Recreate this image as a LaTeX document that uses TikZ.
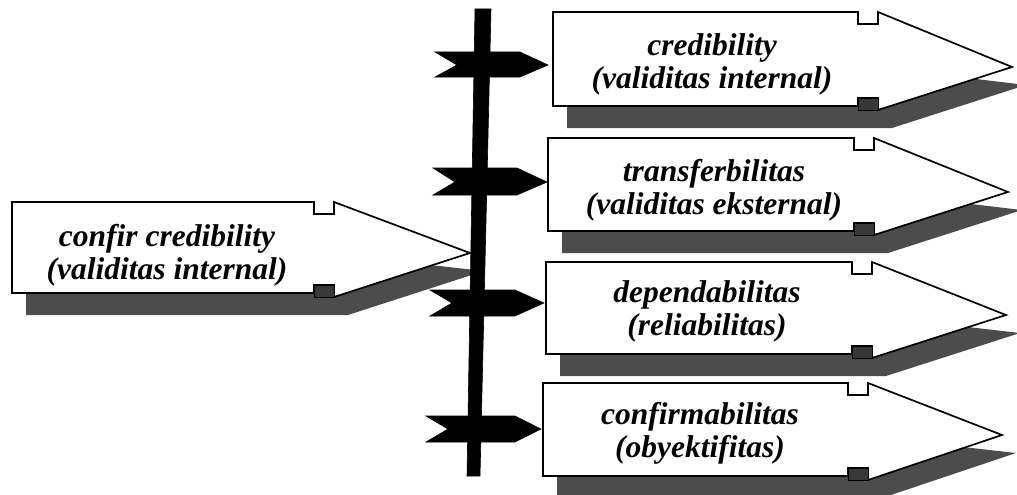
\documentclass[tikz,border=0pt]{standalone}
\usepackage{fontspec}
\setmainfont{Liberation Serif}
\tikzset{
  boxline/.style={draw=black, line width=1.7pt, fill=white, line join=miter},
  shadowfill/.style={fill=black!70, draw=none},
  notchsq/.style={fill=black!78, draw=black, line width=0.8pt},
  pointer/.style={fill=black, draw=black, line width=0.6pt, line join=miter},
  barstyle/.style={fill=black, draw=black, line width=0.6pt},
  lbl/.style={font=\fontsize{31.5}{33}\selectfont\bfseries\itshape, align=center, inner sep=0pt},
}
% #1 left x, #2 top y, #3 bottom y, #4 notch x, #5 tip x, #6 tip y
\newcommand\arrowoutline[6]{(#1,#2) -- (#4,#2) -- (#4,#2+12) -- (#4+20,#2+12) -- (#4+20,#2) -- (#5,#6) -- (#4+20,#3+4) -- (#4+20,#3-8) -- (#4,#3-8) -- (#4,#3) -- (#1,#3) -- cycle}
\newcommand\shadowoutline[6]{(#1,#2) -- (#5,#6) -- (#4+20,#3+4) -- (#1,#3+4) -- cycle}
\newcommand\bigarrow[6]{%
  \fill[shadowfill, shift={(14,18)}] \shadowoutline{#1}{#2}{#3}{#4}{#5}{#6};
  \draw[boxline] \arrowoutline{#1}{#2}{#3}{#4}{#5}{#6};
  \draw[notchsq] (#4,#3-8) rectangle (#4+20,#3+4);
}
% #1 tail x, #2 top, #3 bottom, #4 body end x, #5 tip x, #6 centre y
\newcommand\pointerarrow[6]{%
  \draw[pointer] (#1,#2) -- (#4,#2) -- (#5,#6) -- (#4,#3) -- (#1,#3) -- (#1+22,#6) -- cycle;
}
\begin{document}
\begin{tikzpicture}[x=1pt, y=-1pt]
\useasboundingbox (0,0) rectangle (1017,495);
\clip (0,0) rectangle (1017,495);

% left arrow
\bigarrow{12}{202}{293}{314}{470}{253}
% right arrows
\bigarrow{553}{12}{106}{858}{1012}{67}
\bigarrow{548}{138}{231}{854}{1008}{192}
\bigarrow{546}{262}{354}{852}{1006}{315}
\bigarrow{543}{383}{476}{848}{1002}{435}

% vertical bar
\draw[barstyle] (475,9) -- (491,9) -- (480,476) -- (467,476) -- cycle;

% small pointers from bar to boxes
\pointerarrow{435}{52}{77}{520}{548}{65}
\pointerarrow{433}{168}{195}{517}{547}{182}
\pointerarrow{430}{290}{316}{515}{544}{303}
\pointerarrow{426}{416}{442}{515}{541}{429}

% texts
\node[lbl] (c0) at (167,255) {confir credibility\\(validitas internal)};
\node[lbl] (c1) at (712,64) {credibility\\(validitas internal)};
\node[lbl] (c2) at (714,190) {transferbilitas\\(validitas eksternal)};
\node[lbl] (c3) at (707,311) {dependabilitas\\(reliabilitas)};
\node[lbl] (c4) at (700,433) {confirmabilitas\\(obyektifitas)};
\end{tikzpicture}
\end{document}
